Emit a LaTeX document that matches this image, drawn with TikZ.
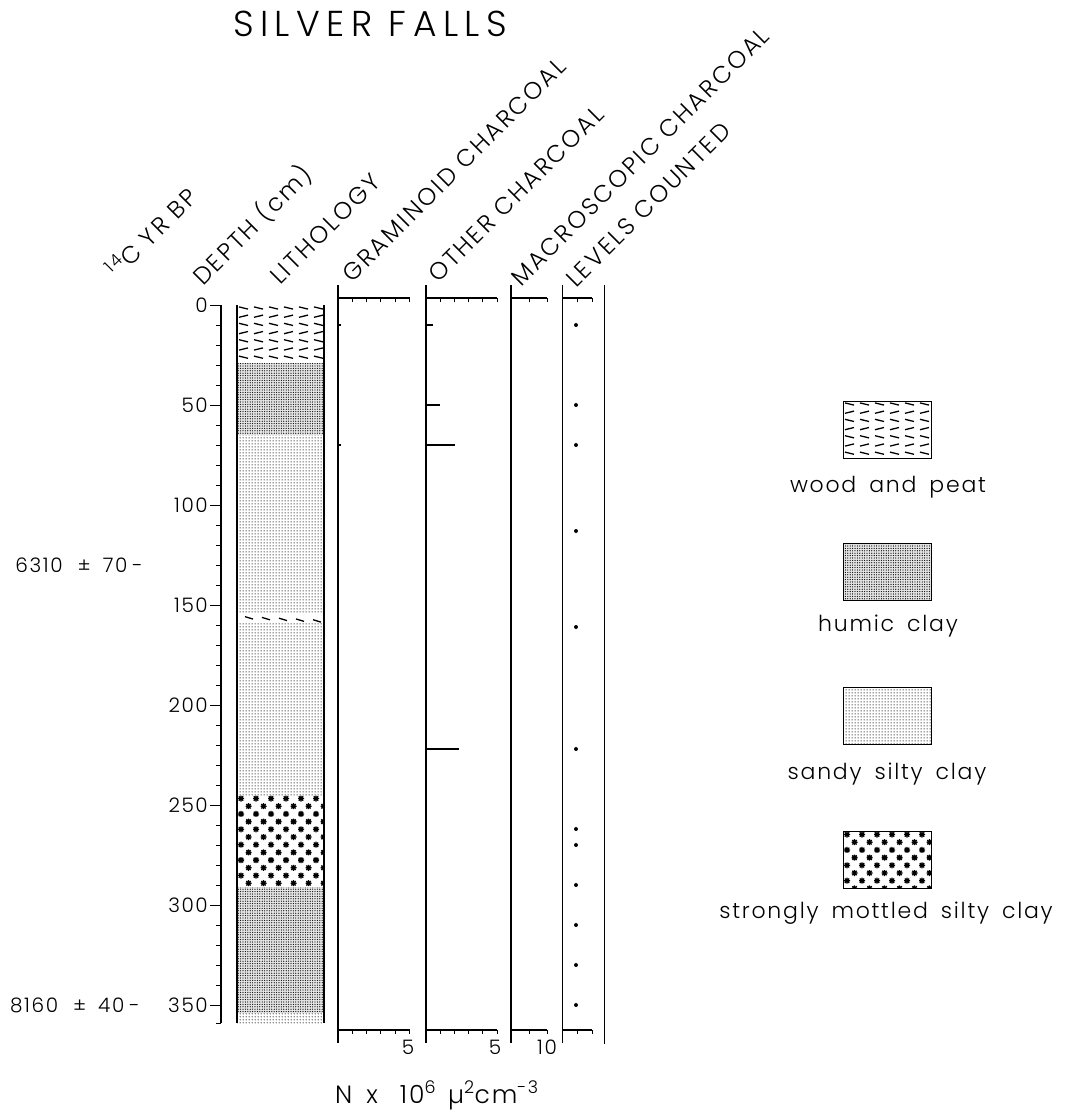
\documentclass[tikz,border=0pt]{standalone}
\usepackage{fontspec}
\IfFontExistsTF{Poppins Light}{\setmainfont{Poppins Light}[LetterSpace=8]}{\setmainfont{Poppins}[LetterSpace=8]}
\usetikzlibrary{patterns}
\pgfdeclarepatternformonly{sanddots}{\pgfqpoint{-1pt}{-1pt}}{\pgfqpoint{2pt}{2pt}}{\pgfqpoint{3pt}{3pt}}{\pgfpathcircle{\pgfqpoint{0.5pt}{0.5pt}}{0.75pt}\pgfusepath{fill}}
\pgfdeclarepatternformonly{humicdots}{\pgfqpoint{-0.6pt}{-0.6pt}}{\pgfqpoint{1.8pt}{1.8pt}}{\pgfqpoint{2.4pt}{2.4pt}}{\pgfpathcircle{\pgfqpoint{0.6pt}{0.6pt}}{0.64pt}\pgfusepath{fill}}
\newcommand\fsz[1]{\fontsize{#1}{#1}\selectfont}
\newcommand\legfont{\fsz{22}\spaceskip=13pt\relax}
\newcommand\hdrfont{\fsz{24}\addfontfeature{LetterSpace=10}}
\newcommand\titlefont{\fsz{36}\addfontfeature{LetterSpace=18}}
% wood-and-peat dashes inside a box
\newcommand\woodfill[4]{%
  \begin{scope}
    \clip (#1,#2) rectangle (#3,#4);
    \foreach \i in {0,...,7}{
      \foreach \j in {0,...,6}{
        \pgfmathsetmacro\wy{#2+3+8.2*\i}
        \pgfmathsetmacro\wx{#1+2+15*\j}
        \pgfmathsetmacro\wsl{ifthenelse(mod(\i,2)==0,1.1,-1.1)}
        \draw[woodln] (\wx,{\wy-(\wsl)}) -- ({\wx+9},{\wy+(\wsl)});
      }}
  \end{scope}}
% mottled stars inside a box
\newcommand\starfill[4]{%
  \begin{scope}
    \clip (#1,#2) rectangle (#3,#4);
    \foreach \i in {0,...,12}{
      \foreach \j in {-1,...,6}{
        \pgfmathsetmacro\sy{#2+3.5+7.7*\i}
        \pgfmathsetmacro\sx{#1+4+15*\j+7.5*mod(\i,2)}
        \draw[starln, shift={(\sx,\sy)}] (-3,0)--(3,0) (0,-3)--(0,3)
          (-2.2,-2.2)--(2.2,2.2) (-2.2,2.2)--(2.2,-2.2);
      }}
  \end{scope}}
\begin{document}
\begin{tikzpicture}[x=1pt,y=-1pt,
  ax/.style={line width=1.2pt},
  tk/.style={line width=1pt},
  databar/.style={line width=1.8pt},
  lbl/.style={font=\fsz{20}, inner sep=0pt},
  hdr/.style={font=\hdrfont, inner sep=0pt, anchor=base west, rotate=45},
  leg/.style={font=\legfont, inner sep=0pt, anchor=base},
  legbox/.style={draw, line width=0.9pt},
  woodln/.style={line width=1.3pt},
  starln/.style={line width=1.3pt},
  lvdot/.style={circle, fill, inner sep=0pt, minimum size=4pt},
  humicfill/.style={fill=black!10, postaction={pattern=humicdots}},
  sandfill/.style={fill=white, postaction={pattern=sanddots}},
]
\useasboundingbox (0,0) rectangle (1072,1113);

% title
\node[font=\titlefont, anchor=base west, inner sep=0pt] (title) at (233,37) {SILVER FALLS};

% headers
\node[hdr] (h14c) at (118,280) {\textsuperscript{14}C YR BP};
\node[hdr] (hdep) at (203,287) {DEPTH (cm)};
\node[hdr] (hlit) at (280,286) {LITHOLOGY};
\node[hdr] (hgra) at (352,284) {GRAMINOID CHARCOAL};
\node[hdr] (hoth) at (438,284) {OTHER CHARCOAL};
\node[hdr] (hmac) at (521,288) {MACROSCOPIC CHARCOAL};
\node[hdr] (hlev) at (576,289) {LEVELS COUNTED};

% depth axis
\draw[ax] (221,305) -- (221,1023);
\foreach \d in {0,10,...,350}{\draw[tk] (216,{305+2*\d}) -- (221,{305+2*\d});}
\draw[tk] (216,1023) -- (221,1023);
\foreach \d in {0,50,...,350}{
  \draw[tk] (210,{305+2*\d}) -- (221,{305+2*\d});
  \node[lbl, anchor=east] (dl\d) at (208,{305+2*\d}) {\d};
}

% radiocarbon dates
\node[lbl, anchor=east] (date1) at (143,565) {6310\hspace{15pt}±\hspace{12pt}70\hspace{5pt}-};
\node[lbl, anchor=east] (date2) at (140,1005) {8160\hspace{15pt}±\hspace{12pt}40\hspace{5pt}-};

% lithology column
\path[humicfill] (237,363) rectangle (324,435);
\path[sandfill] (237,435) rectangle (324,795);
\fill[white] (237,614) rectangle (324,623);
\foreach \j in {0,...,4}{
  \pgfmathsetmacro\bx{245+17*\j}
  \pgfmathsetmacro\by{617.5+0.045*(\bx-237)}
  \draw[woodln] (\bx,{\by-1.2}) -- ({\bx+8},{\by+1.2});
}
\starfill{237}{795}{324}{887}
\path[humicfill] (237,887) rectangle (324,1013);
\path[sandfill] (237,1013) rectangle (324,1023);
\woodfill{237}{305}{324}{363}
\draw[ax] (237,305) -- (237,1023);
\draw[ax] (324,305) -- (324,1023);

% graminoid charcoal
\draw[ax] (338,285) -- (338,1043);
\draw[ax] (338,298) -- (409.5,298);
\draw[ax] (338,1030) -- (409.5,1030);
\foreach \k in {0,...,5}{
  \draw[tk] ({338+14.3*\k},298) -- ++(0,4);
  \draw[tk] ({338+14.3*\k},1030) -- ++(0,4);
}
\node[lbl, anchor=north] (g5) at (408,1040) {5};
\draw[databar] (338,325) -- (341,325);
\draw[databar] (338,445) -- (341,445);

% other charcoal
\draw[ax] (426,285) -- (426,1043);
\draw[ax] (426,298) -- (497,298);
\draw[ax] (426,1030) -- (497,1030);
\foreach \k in {0,...,5}{
  \draw[tk] ({426+14.2*\k},298) -- ++(0,4);
  \draw[tk] ({426+14.2*\k},1030) -- ++(0,4);
}
\node[lbl, anchor=north] (o5) at (495,1040) {5};
\draw[databar] (426,325) -- (433,325);
\draw[databar] (426,405) -- (440,405);
\draw[databar] (426,445) -- (455,445);
\draw[databar] (426,749) -- (459,749);

% macroscopic charcoal
\draw[ax] (511,285) -- (511,1043);
\draw[ax] (511,298) -- (547,298);
\draw[ax] (511,1030) -- (547,1030);
\foreach \k in {0,1,2}{
  \draw[tk] ({511+18*\k},298) -- ++(0,4);
  \draw[tk] ({511+18*\k},1030) -- ++(0,4);
}
\node[lbl, anchor=north] (m10) at (547,1040) {10};

% levels counted
\draw[ax] (562.5,285) -- (562.5,1043);
\draw[ax] (562.5,298) -- (592,298);
\draw[ax] (562.5,1030) -- (592,1030);
\foreach \k in {0,1,2}{
  \draw[tk] ({562.5+14.75*\k},298) -- ++(0,4);
  \draw[tk] ({562.5+14.75*\k},1030) -- ++(0,4);
}
\foreach \d [count=\n] in {10,50,70,113,161,222,262,270,290,310,330,350}{
  \node[lvdot] (lv\n) at (576,{305+2*\d}) {};
}
\draw[ax] (604.5,285) -- (604.5,1044);

% x-axis label
\node[font=\fsz{25}, anchor=base west, inner sep=0pt] (xlab) at (335,1103)
  {N\hspace{14pt}x\hspace{22pt}10\textsuperscript{6}\hspace{12pt}µ\textsuperscript{2}cm\textsuperscript{-3}};

% legend
\woodfill{843}{401}{931}{458}
\draw[legbox] (843,401) rectangle (931,458);
\node[leg] (lwood) at (888,492) {wood and peat};

\path[humicfill] (843,543) rectangle (931,600);
\draw[legbox] (843,543) rectangle (931,600);
\node[leg] (lhumic) at (888,631) {humic clay};

\path[sandfill] (843,687) rectangle (931,744);
\draw[legbox] (843,687) rectangle (931,744);
\node[leg] (lsandy) at (887,779) {sandy silty clay};

\starfill{843}{831}{931}{888}
\draw[legbox] (843,831) rectangle (931,888);
\node[leg] (lmott) at (886,918) {strongly mottled silty clay};
\end{tikzpicture}
\end{document}
